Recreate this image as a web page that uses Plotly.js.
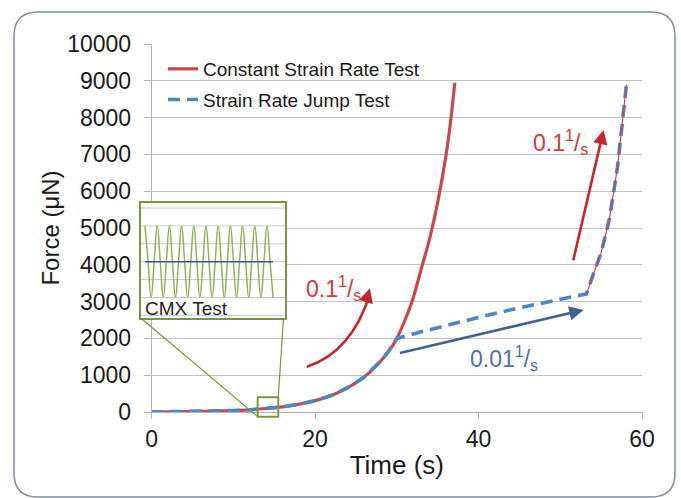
<!DOCTYPE html>
<html>
<head>
<meta charset="utf-8">
<script src="https://cdn.plot.ly/plotly-3.0.1.min.js"></script>
<style>html,body{margin:0;padding:0;background:#fff;}#chart{width:681px;height:498px;}</style>
</head>
<body>
<div id="chart"></div>
<script>
// ---------------- data ----------------
const xTickVals = [0, 20, 40, 60];
const xTickText = ['0', '20', '40', '60'];
const yTickVals = [0, 1000, 2000, 3000, 4000, 5000, 6000, 7000, 8000, 9000, 10000];
const yTickText = ['0', '1000', '2000', '3000', '4000', '5000', '6000', '7000', '8000', '9000', '10000'];

const seriesNames = ['Constant Strain Rate Test', 'Strain Rate Jump Test'];

// Constant strain rate test (s, µN)
const timeConst  = [0, 4, 8, 10, 12, 14, 16, 18, 20, 22, 24, 26, 28, 29, 30, 31, 32, 33, 34, 35, 36, 36.5, 37.1];
const forceConst = [0, 10, 25, 40, 60, 95, 140, 210, 310, 450, 660, 950, 1380, 1650, 2000, 2500, 3100, 3900, 4700, 5700, 6950, 7750, 8950];

// Strain rate jump test (s, µN)
const timeJump  = [0, 4, 8, 10, 12, 14, 16, 18, 20, 22, 24, 26, 28, 29, 30, 33, 36, 39, 42, 45, 48, 51, 53.2, 54, 55, 56, 57, 58.1];
const forceJump = [0, 10, 25, 40, 60, 95, 140, 210, 310, 450, 660, 950, 1380, 1650, 2000, 2180, 2350, 2520, 2680, 2830, 2975, 3110, 3210, 3720, 4330, 5230, 6650, 8900];
const jumpFastStart = 53.2; // start of the second 0.1 1/s segment

// CMX inset: oscillation (phase in cycles, signal in grid units) and mean
const cmxPhase  = [0, 0.25, 0.5, 0.75, 1, 1.25, 1.5, 1.75, 2, 2.25, 2.5, 2.75, 3, 3.25, 3.5, 3.75, 4, 4.25, 4.5, 4.75, 5, 5.25, 5.5, 5.75, 6, 6.25, 6.5, 6.75, 7, 7.25, 7.5, 7.75, 8, 8.25, 8.5, 8.75, 9, 9.25, 9.5, 9.75, 10, 10.25, 10.5];
const cmxSignal = [2, 0, -2, 0, 2, 0, -2, 0, 2, 0, -2, 0, 2, 0, -2, 0, 2, 0, -2, 0, 2, 0, -2, 0, 2, 0, -2, 0, 2, 0, -2, 0, 2, 0, -2, 0, 2, 0, -2, 0, 2, 0, -2];
const cmxMeanPhase = [0, 10.5];
const cmxMean      = [0, 0];
const cmxGrid      = [-3, -2, -1, 0, 1, 2, 3];

// Rate labels (data units: s, µN)
const rateLabels = ['0.1<sup>1</sup>/<sub>s</sub>', '0.1<sup>1</sup>/<sub>s</sub>', '0.01<sup>1</sup>/<sub>s</sub>'];
const rateLabelX = [22.3, 50.0, 43.1];
const rateLabelY = [3370, 7345, 1459];
// arrows: curved one (start, control, tip); straight ones [tailX, tailY, tipX, tipY]
const curveArrowX = [18.98, 24.5, 26.7];
const curveArrowY = [1231, 1630, 3361];
const upperArrow = [51.55, 4084, 55.3, 7663];
const blueArrow  = [30.2, 1595, 52.85, 2772];
// zoom window on the main axes
const zoomBoxX = [12.97, 15.49];
const zoomBoxY = [-128, 400];

// ---------------- layout geometry ----------------
const W = 681, H = 498;
const M = {l: 130, r: 39, t: 44, b: 86};
const PW = W - M.l - M.r, PH = H - M.t - M.b;
const pxX = px => (px - M.l) / PW;
const pxY = py => (H - M.b - py) / PH;
const xDom0 = pxX(151.7);
const xr = [0, 60], yr = [0, 10000];
const dX = t => xDom0 + (t - xr[0]) / (xr[1] - xr[0]) * (1 - xDom0);
const dY = f => (f - yr[0]) / (yr[1] - yr[0]);

const FONT = 'Liberation Sans, Arial, sans-serif';
const RED = '#c8474b', BLUE = '#4a86c8';
const ARROW_RED = '#c4262c', TEXT_RED = '#d23a3c';
const ARROW_BLUE = '#3e6391', TEXT_BLUE = '#4d72a3';
const GREEN = '#77973d';

const insetL = 141, insetR = 285, insetT = 202.7, insetB = 318.3;
// inset axis ranges in its own units
const inset_x0 = -4 / 12.2, inset_x1 = (insetR - insetL - 4) / 12.2;
const inset_y1 = (261.7 - insetT) / 17.9, inset_y0 = (261.7 - insetB) / 17.9;

const fastIdx = timeJump.indexOf(jumpFastStart);

// inset grid lines as one broken line trace
const gridX = [], gridY = [];
cmxGrid.forEach(g => { gridX.push(inset_x0, inset_x1, null); gridY.push(g, g, null); });

const traces = [
  {x: timeConst, y: forceConst, name: seriesNames[0], type: 'scatter', mode: 'lines',
   line: {color: RED, width: 3.2, shape: 'spline', smoothing: 0.6}, legendgroup: 'a', xaxis: 'x', yaxis: 'y'},
  {x: timeJump, y: forceJump, name: seriesNames[1], type: 'scatter', mode: 'lines',
   line: {color: BLUE, width: 3.6, dash: '12px,7px'}, legendgroup: 'b', xaxis: 'x', yaxis: 'y'},
  {x: timeJump.slice(fastIdx), y: forceJump.slice(fastIdx), type: 'scatter', mode: 'lines',
   line: {color: RED, width: 1.2}, showlegend: false, hoverinfo: 'skip', xaxis: 'x', yaxis: 'y'},
  {x: gridX, y: gridY, type: 'scatter', mode: 'lines', connectgaps: false,
   line: {color: '#c8c8c8', width: 1}, showlegend: false, hoverinfo: 'skip', xaxis: 'x2', yaxis: 'y2'},
  {x: cmxPhase, y: cmxSignal, type: 'scatter', mode: 'lines',
   line: {color: '#8fb25a', width: 1.5, shape: 'spline', smoothing: 1.3}, showlegend: false, hoverinfo: 'skip', xaxis: 'x2', yaxis: 'y2'},
  {x: cmxMeanPhase, y: cmxMean, type: 'scatter', mode: 'lines',
   line: {color: '#3b5a86', width: 1.6}, showlegend: false, hoverinfo: 'skip', xaxis: 'x2', yaxis: 'y2'}
];

// frame with rounded corners (paper coords)
const fl = pxX(14), fr = pxX(675), ft = pxY(12), fb = pxY(497);
const rx = 24 / PW, ry = 24 / PH;
const framePath = `M ${fl + rx},${ft} L ${fr - rx},${ft} Q ${fr},${ft} ${fr},${ft - ry} L ${fr},${fb + ry} Q ${fr},${fb} ${fr - rx},${fb} L ${fl + rx},${fb} Q ${fl},${fb} ${fl},${fb + ry} L ${fl},${ft - ry} Q ${fl},${ft} ${fl + rx},${ft} Z`;

const shapes = [
  {type: 'path', xref: 'paper', yref: 'paper', path: framePath, line: {color: '#7d8f9c', width: 1.5}, layer: 'below'},
  {type: 'rect', xref: 'paper', yref: 'paper', x0: dX(zoomBoxX[0]), x1: dX(zoomBoxX[1]), y0: dY(zoomBoxY[0]), y1: dY(zoomBoxY[1]),
   line: {color: GREEN, width: 2}, layer: 'above'},
  {type: 'line', xref: 'paper', yref: 'paper', x0: pxX(insetL), y0: pxY(insetB), x1: dX(zoomBoxX[0]), y1: dY(zoomBoxY[0]),
   line: {color: GREEN, width: 1.2}, layer: 'above'},
  {type: 'line', xref: 'paper', yref: 'paper', x0: pxX(insetR - 1.5), y0: pxY(insetB), x1: dX(zoomBoxX[1]), y1: dY(zoomBoxY[1]),
   line: {color: GREEN, width: 1.2}, layer: 'above'},
  {type: 'path', xref: 'x', yref: 'y',
   path: `M ${curveArrowX[0]},${curveArrowY[0]} Q ${curveArrowX[1]},${curveArrowY[1]} ${curveArrowX[2]},${curveArrowY[2] - 150}`,
   line: {color: ARROW_RED, width: 2.6}, layer: 'above'}
];

const annotations = [];
for (let i = 0; i < rateLabels.length; i++) {
  annotations.push({x: rateLabelX[i], y: rateLabelY[i], xref: 'x', yref: 'y', text: rateLabels[i], showarrow: false,
    font: {family: FONT, size: 23, color: i === 2 ? TEXT_BLUE : TEXT_RED}});
}
annotations.push({x: curveArrowX[2], y: curveArrowY[2], xref: 'x', yref: 'y', ax: -4, ay: 14, text: '', showarrow: true,
  arrowhead: 2, arrowsize: 1.1, arrowwidth: 2.6, arrowcolor: ARROW_RED, standoff: 0});
annotations.push({x: upperArrow[2], y: upperArrow[3], ax: upperArrow[0], ay: upperArrow[1], xref: 'x', yref: 'y', axref: 'x', ayref: 'y',
  text: '', showarrow: true, arrowhead: 2, arrowsize: 1.1, arrowwidth: 2.6, arrowcolor: ARROW_RED, standoff: 0});
annotations.push({x: blueArrow[2], y: blueArrow[3], ax: blueArrow[0], ay: blueArrow[1], xref: 'x', yref: 'y', axref: 'x', ayref: 'y',
  text: '', showarrow: true, arrowhead: 2, arrowsize: 1.1, arrowwidth: 2.6, arrowcolor: ARROW_BLUE, standoff: 0});
annotations.push({x: -0.2, y: -2.6, xref: 'x2', yref: 'y2', xanchor: 'left', yanchor: 'middle', text: 'CMX Test', showarrow: false,
  font: {family: FONT, size: 19, color: '#1e1e1e'}});

const layout = {
  width: W, height: H,
  margin: M,
  paper_bgcolor: '#ffffff', plot_bgcolor: '#ffffff',
  font: {family: FONT, color: '#1a1a1a'},
  showlegend: true,
  legend: {x: pxX(163), y: pxY(50), xanchor: 'left', yanchor: 'top', bgcolor: 'rgba(0,0,0,0)', borderwidth: 0,
    font: {family: FONT, size: 19, color: '#1a1a1a'}, traceorder: 'grouped', tracegroupgap: 3},
  xaxis: {domain: [xDom0, 1], range: xr, tickvals: xTickVals, ticktext: xTickText, showgrid: false, zeroline: false,
    showline: true, linecolor: '#b4b4b4', linewidth: 1, ticks: 'outside', ticklen: 6, tickcolor: '#b4b4b4',
    tickfont: {family: FONT, size: 23, color: '#1a1a1a'}, anchor: 'y',
    title: {text: 'Time (s)', font: {family: FONT, size: 26, color: '#1a1a1a'}, standoff: 5}},
  yaxis: {domain: [0, 1], range: yr, tickvals: yTickVals, ticktext: yTickText, showgrid: true, gridcolor: '#c4c4c4', gridwidth: 1,
    zeroline: false, showline: true, linecolor: '#b4b4b4', linewidth: 1, ticks: 'outside', ticklen: 7, tickcolor: '#b4b4b4',
    ticklabelstandoff: 8,
    tickfont: {family: FONT, size: 23, color: '#1a1a1a'}, anchor: 'x',
    title: {text: 'Force (μN)', font: {family: FONT, size: 24, color: '#1a1a1a'}, standoff: 0}},
  xaxis2: {domain: [pxX(insetL), pxX(insetR)], range: [inset_x0, inset_x1], anchor: 'y2', showgrid: false, zeroline: false,
    tickvals: [], showticklabels: false, ticks: '', showline: true, mirror: true, linecolor: GREEN, linewidth: 2},
  yaxis2: {domain: [pxY(insetB), pxY(insetT)], range: [inset_y0, inset_y1], anchor: 'x2', tickvals: [], showgrid: false,
    zeroline: false, showticklabels: false, ticks: '', showline: true, mirror: true, linecolor: GREEN, linewidth: 2},
  shapes: shapes,
  annotations: annotations
};

Plotly.newPlot('chart', traces, layout, {displayModeBar: false, staticPlot: true});
</script>
</body>
</html>
